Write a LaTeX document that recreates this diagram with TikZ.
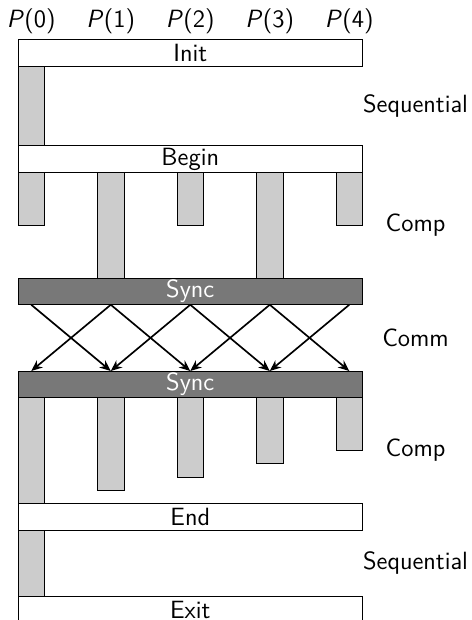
\documentclass[tikz,border=0pt]{standalone}
\usetikzlibrary{arrows.meta,calc}
\begin{document}
\begin{tikzpicture}[x=1cm,y=-1cm,
  font=\fontsize{13.4}{16}\selectfont\sffamily,
  phase/.style={draw, line width=0.5pt, fill=white, minimum width=6.5cm,
    minimum height=0.5cm, inner sep=0pt, outer sep=0pt, anchor=north west},
  syncbar/.style={phase, fill=black!53, text=white},
  work/.style={draw, line width=0.5pt, fill=black!20, minimum width=0.5cm,
    inner sep=0pt, outer sep=0pt, anchor=north west},
  msg/.style={-{Stealth[length=6pt,width=5pt]}, line width=0.9pt}]
\useasboundingbox (0,0) rectangle (8.887,11.698);

% process labels
\foreach \i in {0,...,4}
  \node (p\i) at (0.59+1.5*\i,0.41) {\textit{P}(\i)};

% sequential part before the parallel region
\node[work, minimum height=1.5cm] (seqA) at (0.34,1.25) {};

% first computation phase
\node[work, minimum height=1cm] (ca0) at (0.34,3.25) {};
\node[work, minimum height=2cm] (ca1) at (1.84,3.25) {};
\node[work, minimum height=1cm] (ca2) at (3.34,3.25) {};
\node[work, minimum height=2cm] (ca3) at (4.84,3.25) {};
\node[work, minimum height=1cm] (ca4) at (6.34,3.25) {};

% second computation phase
\node[work, minimum height=2cm]    (cb0) at (0.34,7.5) {};
\node[work, minimum height=1.75cm] (cb1) at (1.84,7.5) {};
\node[work, minimum height=1.5cm]  (cb2) at (3.34,7.5) {};
\node[work, minimum height=1.25cm] (cb3) at (4.84,7.5) {};
\node[work, minimum height=1cm]    (cb4) at (6.34,7.5) {};

% sequential part after the parallel region
\node[work, minimum height=1.25cm] (seqB) at (0.34,10.0) {};

% phase boxes
\node[phase] (init)  at (0.34,0.75)  {Init};
\node[phase] (begin) at (0.34,2.75)  {Begin};
\node[syncbar] (sync1) at (0.34,5.25) {Sync};
\node[syncbar] (sync2) at (0.34,7.0)  {Sync};
\node[phase] (end)   at (0.34,9.5)   {End};
\node[phase] (exit)  at (0.34,11.25) {Exit};

% neighbour communication
\foreach \i in {0,...,4} {
  \coordinate (out\i) at ($(sync1.south west)+(0.25+1.5*\i,0)$);
  \coordinate (in\i)  at ($(sync2.north west)+(0.25+1.5*\i,0)$);
}
\foreach \a/\b in {0/1,1/0,1/2,2/1,2/3,3/2,3/4,4/3}
  \draw[msg] (out\a) -- (in\b);

% phase names
\node (lseqA)  at (7.84,2.0)    {Sequential};
\node (lcompA) at (7.84,4.25)   {Comp};
\node (lcomm)  at (7.84,6.375)  {Comm};
\node (lcompB) at (7.84,8.5)    {Comp};
\node (lseqB)  at (7.84,10.625) {Sequential};
\end{tikzpicture}
\end{document}
